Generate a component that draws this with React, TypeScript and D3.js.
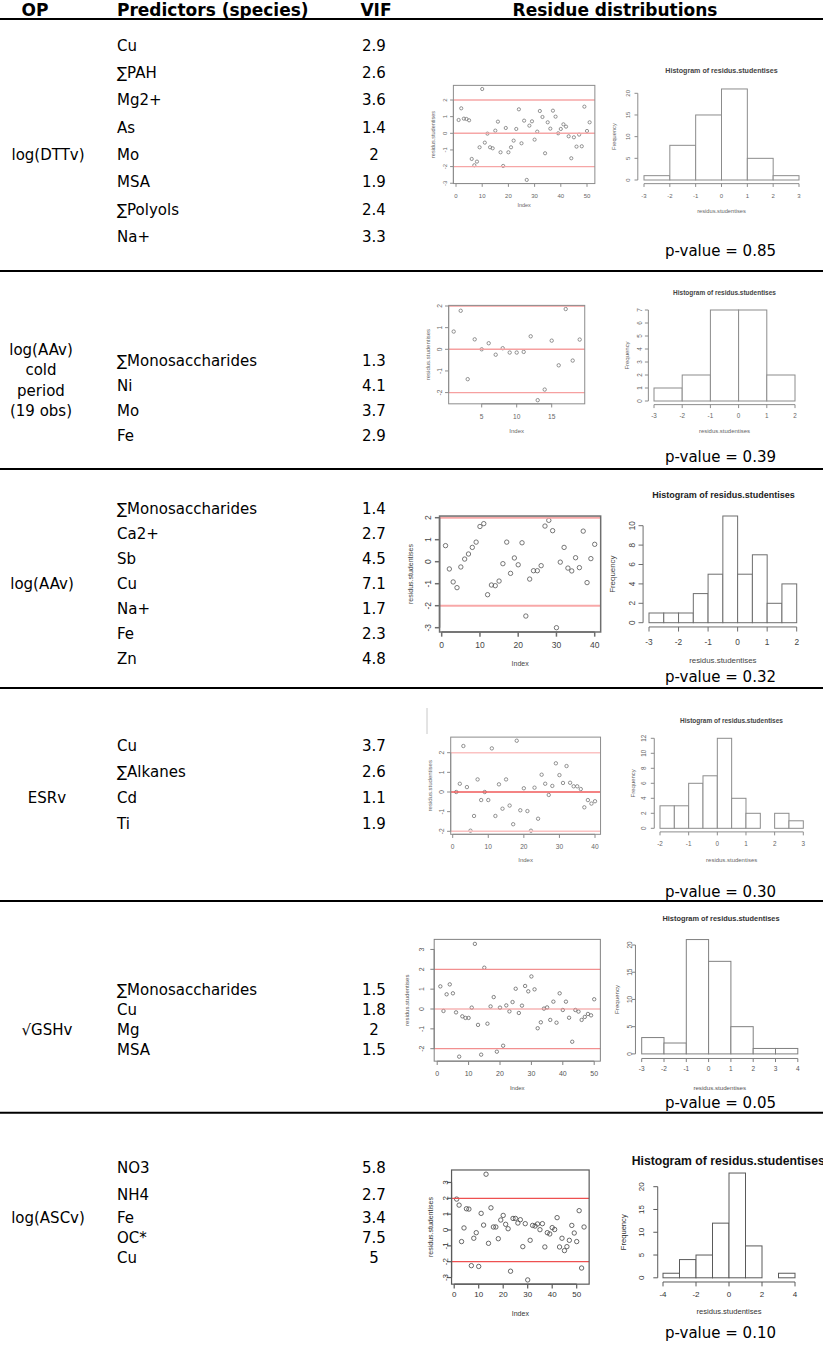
import React from 'react';
import * as d3 from 'd3';

// ---------------- DATA ----------------
const headers = ['OP', 'Predictors (species)', 'VIF', 'Residue distributions'];
const opLabels: string[][] = [
  ['log(DTTv)'],
  ['log(AAv)', 'cold', 'period', '(19 obs)'],
  ['log(AAv)'],
  ['ESRv'],
  ['√GSHv'],
  ['log(ASCv)'],
];
const predictors: string[][] = [
  ['Cu', '∑PAH', 'Mg2+', 'As', 'Mo', 'MSA', '∑Polyols', 'Na+'],
  ['∑Monosaccharides', 'Ni', 'Mo', 'Fe'],
  ['∑Monosaccharides', 'Ca2+', 'Sb', 'Cu', 'Na+', 'Fe', 'Zn'],
  ['Cu', '∑Alkanes', 'Cd', 'Ti'],
  ['∑Monosaccharides', 'Cu', 'Mg', 'MSA'],
  ['NO3', 'NH4', 'Fe', 'OC*', 'Cu'],
];
const vifs: string[][] = [
  ['2.9', '2.6', '3.6', '1.4', '2', '1.9', '2.4', '3.3'],
  ['1.3', '4.1', '3.7', '2.9'],
  ['1.4', '2.7', '4.5', '7.1', '1.7', '2.3', '4.8'],
  ['3.7', '2.6', '1.1', '1.9'],
  ['1.5', '1.8', '2', '1.5'],
  ['5.8', '2.7', '3.4', '7.5', '5'],
];
const pValues = ['0.85', '0.39', '0.32', '0.30', '0.05', '0.10'];

// studentised residuals (index order)
const res1 = [0.8, 1.5, 0.88, 0.86, 0.78, -1.54, -1.92, -1.7, -0.84, 2.66, -0.56, -0.02, -0.84, -0.9, 0.16, 0.7, -1.14, -1.96, 0.32, -1.14, -0.84, -0.44, 0.26, 1.44, -0.6, 0.76, -2.8, 0.46, 0.72, -0.38, 0.1, 1.34, 0.98, -1.2, 0.66, 0.28, 1.36, 1.0, 0.0, 0.26, 0.54, 0.4, -0.18, -1.5, -0.24, -0.8, -0.08, -0.78, 1.6, 0.14, 0.66];
const res2 = [0.82, 1.78, -1.38, 0.46, 0.0, 0.28, -0.25, 0.05, -0.15, -0.15, -0.12, 0.6, -2.35, -1.86, 0.4, -0.74, 1.86, -0.52, 0.45];
const res3 = [0.73, -0.33, -0.92, -1.18, -0.24, 0.12, 0.35, 0.65, 0.89, 1.6, 1.73, -1.5, -1.06, -1.09, -0.88, -0.09, 0.89, -0.53, 0.17, -0.14, 0.86, -2.47, -0.79, -0.41, -0.41, -0.18, 1.62, 1.88, 1.41, -3.0, -0.02, 0.65, -0.29, -0.42, 0.18, -0.27, 1.39, -0.95, 0.14, 0.79];
const res4 = [0.0, 0.42, 2.34, 0.25, -1.97, -1.22, 0.64, -0.41, 0.0, -0.41, 2.22, -1.22, 0.39, -0.85, 0.64, -0.69, -1.64, 2.61, -0.93, 0.19, -0.97, -1.97, 0.22, -1.36, 0.88, 0.42, -0.15, 0.31, 1.46, 0.86, 0.46, 1.32, 0.47, 0.29, 0.29, 0.15, -0.78, -0.41, -0.59, -0.47];
const res5 = [1.14, -0.1, 0.74, 1.24, 0.79, -0.17, -2.4, -0.37, -0.45, -0.45, 0.07, 3.28, -0.8, -2.3, 2.08, -0.74, 0.13, 0.6, -2.15, 0.07, -1.85, 0.18, -0.12, 0.35, 1.02, -0.2, 0.17, 1.16, 0.89, 1.64, 0.99, -0.97, -0.67, 0.02, 0.08, -0.55, 0.37, -0.69, 0.79, -0.05, 0.37, -0.44, -1.65, -0.05, -0.13, -0.55, -0.4, -0.25, -0.32, 0.49];
const res6 = [1.95, 1.57, -0.73, 0.13, 1.34, 1.32, -2.25, -0.52, -0.17, -2.3, 1.05, 0.31, 3.52, -0.84, 1.4, 0.19, 0.19, -0.55, 0.63, 0.92, 0.36, 0.08, -2.6, 0.73, 0.73, 0.44, 0.65, -1.05, 0.4, -3.15, -0.65, 0.29, 0.25, 0.38, 0.02, 0.4, -1.07, -0.17, -0.25, 0.15, 0.03, 0.78, -1.07, -0.52, -1.3, -1.05, -0.65, 0.29, -0.19, -0.73, 1.22, -2.4, 0.19];

// histogram counts and breaks
const hist1 = [1, 8, 15, 21, 5, 1];
const breaks1 = [-3, -2, -1, 0, 1, 2, 3];
const hist2 = [1, 2, 7, 7, 2];
const breaks2 = [-3, -2, -1, 0, 1, 2];
const hist3 = [1, 1, 1, 3, 5, 11, 5, 7, 2, 4];
const breaks3 = [-3, -2.5, -2, -1.5, -1, -0.5, 0, 0.5, 1, 1.5, 2];
const hist4 = [3, 3, 6, 7, 12, 4, 2, 0, 2, 1];
const breaks4 = [-2, -1.5, -1, -0.5, 0, 0.5, 1, 1.5, 2, 2.5, 3];
const hist5 = [3, 2, 21, 17, 5, 1, 1];
const breaks5 = [-3, -2, -1, 0, 1, 2, 3, 4];
const hist6 = [1, 4, 5, 12, 23, 7, 0, 1];
const breaks6 = [-4, -3, -2, -1, 0, 1, 2, 3, 4];

// tick values
const sXTicks = [[0, 10, 20, 30, 40, 50], [5, 10, 15], [0, 10, 20, 30, 40], [0, 10, 20, 30, 40], [0, 10, 20, 30, 40, 50], [0, 10, 20, 30, 40, 50]];
const sYTicks = [[-3, -2, -1, 0, 1, 2], [-2, -1, 0, 1, 2], [-3, -2, -1, 0, 1, 2], [-2, -1, 0, 1, 2], [-2, -1, 0, 1, 2, 3], [-3, -2, -1, 0, 1, 2, 3]];
const hXTicks = [[-3, -2, -1, 0, 1, 2, 3], [-3, -2, -1, 0, 1, 2], [-3, -2, -1, 0, 1, 2], [-2, -1, 0, 1, 2, 3], [-3, -2, -1, 0, 1, 2, 3, 4], [-4, -2, 0, 2, 4]];
const hYTicks = [[0, 5, 10, 15, 20], [0, 1, 2, 3, 4, 5, 6, 7], [0, 2, 4, 6, 8, 10], [0, 2, 4, 6, 8, 10, 12], [0, 5, 10, 15, 20], [0, 5, 10, 15, 20]];
const refLines = [[2, 0, -2], [2, 0, -2], [2, -2], [2, 0, -2], [2, 0, -2], [2, -2]];

const residuals = [res1, res2, res3, res4, res5, res6];
const histCounts = [hist1, hist2, hist3, hist4, hist5, hist6];
const histBreaks = [breaks1, breaks2, breaks3, breaks4, breaks5, breaks6];

// ---------------- LAYOUT / STYLE ----------------
const FONT = "'DejaVu Sans', Verdana, sans-serif";
const RFONT = "'Liberation Sans', Arial, sans-serif";
const W = 823;
const H = 1346;

const table = {
  headerY: 10,
  headerLine: 19,
  fs: 15,
  hfs: 17,
  headerX: [35, 117, 376, 615],
  predX: 117,
  vifX: 374,
  pvalX: 665,
  rows: [
    { opX: 48, opY: [155], predY: [46, 73, 100, 128, 155, 182, 210, 237], pY: 251, sep: 271 },
    { opX: 41, opY: [350, 370, 391, 411], predY: [361, 386, 411, 436], pY: 457, sep: 469 },
    { opX: 42, opY: [584], predY: [509, 534, 559, 584, 609, 634, 659], pY: 677, sep: 688 },
    { opX: 47, opY: [798], predY: [746, 772, 798, 824], pY: 892, sep: 901 },
    { opX: 47, opY: [1030], predY: [990, 1010, 1030, 1050], pY: 1103, sep: 1112.7 },
    { opX: 48, opY: [1218], predY: [1168, 1195, 1218, 1238, 1258], pY: 1333, sep: null as number | null },
  ],
};

const scatterCfg = [
  { xd: [0, 50], xr: [456, 587], yd: [0, 2], yr: [133.3, 100], fs: 6, lfs: 5.5, r: 1.6, xtY: 195.7, idxY: 205, ytX: 445, ylX: 433, box: '#8c8c8c', pt: '#777', line: ['#f6a6a6', '#f6a6a6', '#f6a6a6'], lw: 1.4, bw: 1, txt: '#666' },
  { xd: [5, 15], xr: [481.7, 551.7], yd: [0, 2], yr: [349.3, 306], fs: 6.6, lfs: 6, r: 1.7, xtY: 416, idxY: 431, ytX: 439.3, ylX: 428.3, box: '#8c8c8c', pt: '#777', line: ['#f6a0a0', '#f6a0a0', '#f6a0a0'], lw: 1.4, bw: 1, txt: '#666' },
  { xd: [0, 40], xr: [441.7, 594.7], yd: [0, 2], yr: [561.7, 517.7], fs: 8.5, lfs: 7, r: 2.2, xtY: 645, idxY: 663, ytX: 428.3, ylX: 410, box: '#6e6e6e', pt: '#555', line: ['#f8a8a8', '#f8a8a8'], lw: 2, bw: 1.5, txt: '#444' },
  { xd: [0, 40], xr: [452.7, 595], yd: [0, 2], yr: [792, 752.7], fs: 6.6, lfs: 6, r: 1.7, xtY: 846, idxY: 860, ytX: 441, ylX: 430, box: '#8c8c8c', pt: '#777', line: ['#fbc2c2', '#f05a5a', '#fbc2c2'], lw: 1.4, bw: 1, txt: '#666' },
  { xd: [0, 50], xr: [437.2, 594.2], yd: [0, 2], yr: [1009, 969.3], fs: 7, lfs: 6, r: 1.7, xtY: 1073.5, idxY: 1088, ytX: 421, ylX: 407, box: '#808080', pt: '#666', line: ['#f29090', '#f29090', '#f29090'], lw: 1.2, bw: 1, txt: '#555' },
  { xd: [0, 50], xr: [454.2, 576.7], yd: [0, 2], yr: [1230, 1198.3], fs: 8, lfs: 7, r: 2.2, xtY: 1294, idxY: 1313, ytX: 445.3, ylX: 430, box: '#5a5a5a', pt: '#444', line: ['#ee5050', '#ee5050'], lw: 1.2, bw: 1.2, txt: '#333' },
];

const histCfg = [
  { xr: [644, 799], yd: [0, 20], yr: [180, 93.3], fs: 6, tfs: 7.1, tY: 70.7, tX: 721.5, anchor: 'middle', ytX: 628.3, frX: 614, xtY: 195.7, xlY: 211, stroke: '#8c8c8c', txt: '#666', title: '#444' },
  { xr: [654, 795], yd: [0, 7], yr: [401, 310], fs: 6.3, tfs: 6.5, tY: 292, tX: 724.5, anchor: 'middle', ytX: 639.3, frX: 626.7, xtY: 415.7, xlY: 431, stroke: '#8c8c8c', txt: '#666', title: '#444' },
  { xr: [649, 796.7], yd: [0, 10], yr: [622.7, 525.7], fs: 8.3, tfs: 9, tY: 495, tX: 723.5, anchor: 'middle', ytX: 631.7, frX: 612.7, xtY: 641.7, xlY: 660, stroke: '#6e6e6e', txt: '#444', title: '#222' },
  { xr: [660, 803.3], yd: [0, 12], yr: [828.3, 738.3], fs: 6.3, tfs: 6.5, tY: 720, tX: 731.5, anchor: 'middle', ytX: 643.3, frX: 632.7, xtY: 843.3, xlY: 860, stroke: '#8c8c8c', txt: '#666', title: '#444' },
  { xr: [641.7, 797.8], yd: [0, 20], yr: [1053.9, 945], fs: 6.5, tfs: 7.4, tY: 918.3, tX: 721, anchor: 'middle', ytX: 629.3, frX: 616, xtY: 1068.5, xlY: 1087, stroke: '#808080', txt: '#555', title: '#333' },
  { xr: [663, 795], yd: [0, 20], yr: [1277.8, 1186.7], fs: 8, tfs: 12.2, tY: 1161, tX: 631.7, anchor: 'start', ytX: 641.7, frX: 623.3, xtY: 1294, xlY: 1311, stroke: '#5a5a5a', txt: '#333', title: '#111' },
];

// ---------------- COMPONENTS ----------------
function Scatter({ vals, cfg, xt, yt, lines }: any) {
  const x = d3.scaleLinear().domain(cfg.xd).range(cfg.xr);
  const y = d3.scaleLinear().domain(cfg.yd).range(cfg.yr);
  const n = vals.length;
  const px = (n - 1) * 0.04;
  const [lo, hi] = d3.extent(vals) as [number, number];
  const py = (hi - lo) * 0.04;
  const L = x(1 - px), R = x(n + px), T = y(hi + py), B = y(lo - py);
  const tl = cfg.fs * 0.55;
  const ax = { stroke: cfg.box, strokeWidth: cfg.bw };
  return (
    <g>
      {vals.map((v: number, i: number) => (
        <circle key={i} cx={x(i + 1)} cy={y(v)} r={cfg.r} fill="none" stroke={cfg.pt} strokeWidth={0.8} />
      ))}
      {lines.map((v: number, i: number) => (
        <line key={i} x1={L} x2={R} y1={y(v)} y2={y(v)} stroke={cfg.line[i]} strokeWidth={cfg.lw} />
      ))}
      <rect x={L} y={T} width={R - L} height={B - T} fill="none" {...ax} />
      <line x1={x(xt[0])} x2={x(xt[xt.length - 1])} y1={B} y2={B} {...ax} />
      {xt.map((t: number) => (
        <g key={t}>
          <line x1={x(t)} x2={x(t)} y1={B} y2={B + tl} {...ax} />
          <text x={x(t)} y={cfg.xtY} fontSize={cfg.fs} fill={cfg.txt} textAnchor="middle" dominantBaseline="central" fontFamily={RFONT}>{t}</text>
        </g>
      ))}
      <line x1={L} x2={L} y1={y(yt[0])} y2={y(yt[yt.length - 1])} {...ax} />
      {yt.map((t: number) => (
        <g key={t}>
          <line x1={L - tl} x2={L} y1={y(t)} y2={y(t)} {...ax} />
          <text transform={`translate(${cfg.ytX},${y(t)}) rotate(-90)`} fontSize={cfg.fs} fill={cfg.txt} textAnchor="middle" dominantBaseline="central" fontFamily={RFONT}>{t}</text>
        </g>
      ))}
      <text x={(L + R) / 2} y={cfg.idxY} fontSize={cfg.lfs} fill={cfg.txt} textAnchor="middle" dominantBaseline="central" fontFamily={RFONT}>Index</text>
      <text transform={`translate(${cfg.ylX},${(T + B) / 2}) rotate(-90)`} fontSize={cfg.lfs} fill={cfg.txt} textAnchor="middle" dominantBaseline="central" fontFamily={RFONT}>residus.studentises</text>
    </g>
  );
}

function Hist({ counts, breaks, cfg, xt, yt }: any) {
  const x = d3.scaleLinear().domain([breaks[0], breaks[breaks.length - 1]]).range(cfg.xr);
  const y = d3.scaleLinear().domain(cfg.yd).range(cfg.yr);
  const span = breaks[breaks.length - 1] - breaks[0];
  const maxC = d3.max(counts) as number;
  const axisY = y(0) + (y(0) - y(maxC * 0.04));
  const axisX = x(breaks[0]) - (x(breaks[0] + span * 0.04) - x(breaks[0]));
  const tl = cfg.fs * 0.55;
  const ax = { stroke: cfg.stroke, strokeWidth: 1 };
  return (
    <g>
      {counts.map((c: number, i: number) => (
        <rect key={i} x={x(breaks[i])} y={y(c)} width={x(breaks[i + 1]) - x(breaks[i])} height={y(0) - y(c)} fill="#fff" stroke={cfg.stroke} strokeWidth={1} />
      ))}
      <line x1={x(xt[0])} x2={x(xt[xt.length - 1])} y1={axisY} y2={axisY} {...ax} />
      {xt.map((t: number) => (
        <g key={t}>
          <line x1={x(t)} x2={x(t)} y1={axisY} y2={axisY + tl} {...ax} />
          <text x={x(t)} y={cfg.xtY} fontSize={cfg.fs} fill={cfg.txt} textAnchor="middle" dominantBaseline="central" fontFamily={RFONT}>{t}</text>
        </g>
      ))}
      <line x1={axisX} x2={axisX} y1={y(yt[0])} y2={y(yt[yt.length - 1])} {...ax} />
      {yt.map((t: number) => (
        <g key={t}>
          <line x1={axisX - tl} x2={axisX} y1={y(t)} y2={y(t)} {...ax} />
          <text transform={`translate(${cfg.ytX},${y(t)}) rotate(-90)`} fontSize={cfg.fs} fill={cfg.txt} textAnchor="middle" dominantBaseline="central" fontFamily={RFONT}>{t}</text>
        </g>
      ))}
      <text x={cfg.tX} y={cfg.tY} fontSize={cfg.tfs} fontWeight="bold" fill={cfg.title} textAnchor={cfg.anchor} dominantBaseline="central" fontFamily={RFONT}>Histogram of residus.studentises</text>
      <text x={(x(breaks[0]) + x(breaks[breaks.length - 1])) / 2} y={cfg.xlY} fontSize={cfg.fs * 0.95} fill={cfg.txt} textAnchor="middle" dominantBaseline="central" fontFamily={RFONT}>residus.studentises</text>
      <text transform={`translate(${cfg.frX},${(y(yt[0]) + y(yt[yt.length - 1])) / 2}) rotate(-90)`} fontSize={cfg.fs * 0.95} fill={cfg.txt} textAnchor="middle" dominantBaseline="central" fontFamily={RFONT}>Frequency</text>
    </g>
  );
}

export default function App() {
  const T = table;
  return (
    <svg width={W} height={H} viewBox={`0 0 ${W} ${H}`} style={{ position: 'absolute', left: 0, top: 0, background: '#fff' }}>
      <rect x={0} y={0} width={W} height={H} fill="#fff" />
      {headers.map((h, i) => (
        <text key={h} x={T.headerX[i]} y={T.headerY} fontFamily={FONT} fontSize={T.hfs} fontWeight="bold" textAnchor={i === 1 ? 'start' : 'middle'} dominantBaseline="central" fill="#000">{h}</text>
      ))}
      <line x1={0} x2={W} y1={T.headerLine} y2={T.headerLine} stroke="#000" strokeWidth={2} />
      {T.rows.map((r, ri) => (
        <g key={ri}>
          {opLabels[ri].map((s, k) => (
            <text key={k} x={r.opX} y={r.opY[k]} fontFamily={FONT} fontSize={T.fs} textAnchor="middle" dominantBaseline="central" fill="#000">{s}</text>
          ))}
          {predictors[ri].map((s, k) => (
            <text key={k} x={T.predX} y={r.predY[k]} fontFamily={FONT} fontSize={T.fs} dominantBaseline="central" fill="#000">{s}</text>
          ))}
          {vifs[ri].map((s, k) => (
            <text key={k} x={T.vifX} y={r.predY[k]} fontFamily={FONT} fontSize={T.fs} textAnchor="middle" dominantBaseline="central" fill="#000">{s}</text>
          ))}
          <text x={T.pvalX} y={r.pY} fontFamily={FONT} fontSize={T.fs} dominantBaseline="central" fill="#000">{`p-value = ${pValues[ri]}`}</text>
          {r.sep !== null && <line x1={0} x2={W} y1={r.sep} y2={r.sep} stroke="#000" strokeWidth={2} />}
          <Scatter vals={residuals[ri]} cfg={scatterCfg[ri]} xt={sXTicks[ri]} yt={sYTicks[ri]} lines={refLines[ri]} />
          <Hist counts={histCounts[ri]} breaks={histBreaks[ri]} cfg={histCfg[ri]} xt={hXTicks[ri]} yt={hYTicks[ri]} />
        </g>
      ))}
      <line x1={427} x2={427} y1={708} y2={734} stroke="#c8c8c8" strokeWidth={1} />
    </svg>
  );
}
